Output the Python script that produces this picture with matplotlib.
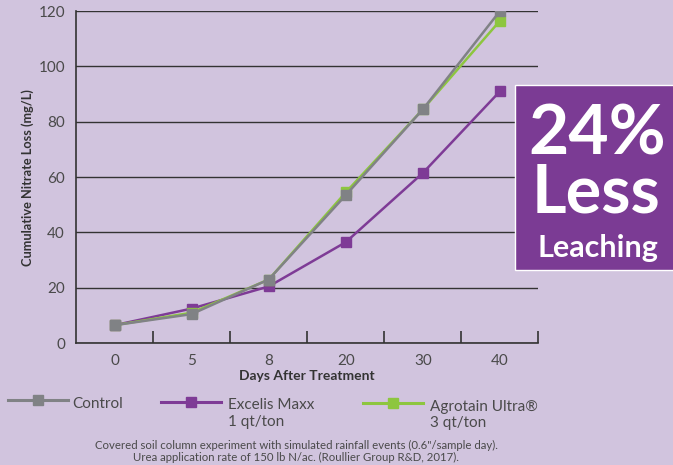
import matplotlib.pyplot as plt
from matplotlib.lines import Line2D
from matplotlib.patches import Rectangle

# Data
days = ['0', '5', '8', '20', '30', '40']
control = [6.5, 10.5, 23, 53.5, 84.5, 120]
excelis = [6.5, 12.5, 20.5, 36.5, 61.5, 91]
agrotain = [6.5, 11, 23, 54.5, 84.5, 116.5]

bg = '#D1C4DE'
gray = '#808285'
purple = '#7E3B96'
green = '#8DC63F'
txt = '#4a4a4a'

plt.rcParams['font.family'] = ['Lato', 'DejaVu Sans']

fig = plt.figure(figsize=(6.73, 4.65), dpi=100, facecolor=bg)
ax = fig.add_axes([0.113, 0.262, 0.687, 0.714])
ax.set_facecolor(bg)

x = range(len(days))
ax.plot(x, excelis, color=purple, lw=1.8, marker='s', ms=7, zorder=3)
ax.plot(x, agrotain, color=green, lw=1.8, marker='s', ms=7, zorder=4)
ax.plot(x, control, color=gray, lw=1.8, marker='s', ms=7, zorder=5)

ax.set_xlim(-0.5, len(days) - 0.5)
ax.set_ylim(0, 120)
ax.set_yticks(range(0, 121, 20))
ax.set_xticks(list(x))
ax.set_xticklabels(days)
ax.set_xticks([i + 0.5 for i in x], minor=True)
ax.tick_params(axis='x', which='major', length=0, pad=8, labelsize=11, labelcolor=txt)
ax.tick_params(axis='x', which='minor', direction='in', length=9, width=1.2, color='#333333')
ax.tick_params(axis='y', length=0, pad=8, labelsize=11, labelcolor=txt)
ax.yaxis.grid(True, color='#333333', lw=1)
ax.set_axisbelow(True)
for s in ['top', 'right']:
    ax.spines[s].set_visible(False)
for s in ['left', 'bottom']:
    ax.spines[s].set_color('#333333')
    ax.spines[s].set_linewidth(1.2)

ax.set_xlabel('Days After Treatment', fontsize=10, fontweight='bold', color='#333333')
ax.xaxis.set_label_coords(0.5, -0.08)
ax.set_ylabel('Cumulative Nitrate Loss (mg/L)', fontsize=9.2, fontweight='bold', color='#333333')
ax.yaxis.set_label_coords(-0.09, 0.5)

# Callout box
fig.add_artist(Rectangle((0.765, 0.419), 0.25, 0.398, transform=fig.transFigure,
                         facecolor='#7B3B94', edgecolor='white', lw=1, zorder=10))
fig.text(0.888, 0.667, '24%', ha='center', va='baseline', color='white', fontsize=50,
         fontweight='bold', zorder=11)
fig.text(0.886, 0.542, 'Less', ha='center', va='baseline', color='white', fontsize=48,
         fontweight='bold', zorder=11)
fig.text(0.888, 0.447, 'Leaching', ha='center', va='baseline', color='white', fontsize=22,
         fontweight='bold', zorder=11)

# Legend drawn by hand
legend_lines = [(0.012, 0.140, gray), (0.239, 0.135, purple), (0.539, 0.133, green)]
for lx, ly, c in legend_lines:
    fig.add_artist(Line2D([lx, lx + 0.089], [ly, ly], color=c, lw=2.2,
                          transform=fig.transFigure))
    fig.add_artist(Line2D([lx + 0.0445], [ly], color=c, marker='s', ms=7, lw=0,
                          transform=fig.transFigure))
fig.text(0.108, 0.131, 'Control', va='center', fontsize=11, color=txt)
fig.text(0.339, 0.129, 'Excelis Maxx', va='center', fontsize=11, color=txt)
fig.text(0.339, 0.0925, '1 qt/ton', va='center', fontsize=11, color=txt)
fig.text(0.639, 0.125, 'Agrotain Ultra\u00ae', va='center', fontsize=11, color=txt)
fig.text(0.639, 0.090, '3 qt/ton', va='center', fontsize=11, color=txt)

fig.text(0.44, 0.029, 'Covered soil column experiment with simulated rainfall events (0.6"/sample day).\n'
         'Urea application rate of 150 lb N/ac. (Roullier Group R&D, 2017).',
         ha='center', va='center', fontsize=8.2, color=txt, linespacing=1.2)

fig.savefig('out.png', dpi=100, facecolor=bg)
